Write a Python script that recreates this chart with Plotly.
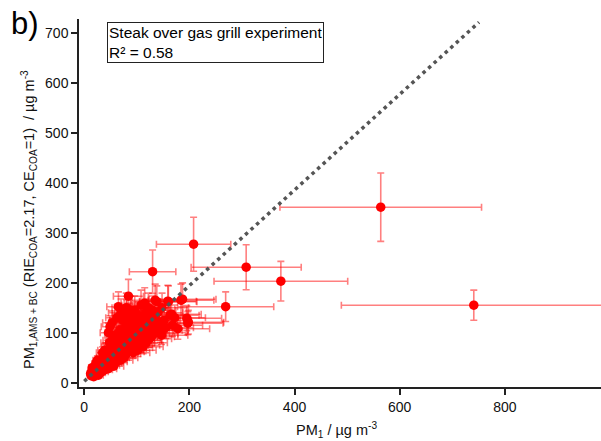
import plotly.graph_objects as go

# PM1 (x) vs PM1,AMS+BC (y), µg m-3
pm1 = [
    12, 14, 15, 16, 17, 18, 19, 20, 21, 22, 13, 15, 18, 23,
    24, 25, 26, 27, 28, 29, 30, 25, 27, 30, 22, 28,
    32, 33, 34, 35, 36, 37, 38, 40, 41, 42, 43, 44, 35, 39, 45, 31,
    46, 47, 48, 49, 50, 51, 52, 53, 54, 55, 56, 57, 58, 59, 60, 46, 48, 53,
    61, 62, 63, 64, 65, 66, 67, 68, 69, 70, 71, 72, 73, 74, 75, 62, 70,
    76, 77, 78, 79, 80, 81, 82, 83, 84, 85, 86, 87, 88, 89, 90, 80, 88,
    91, 92, 93, 94, 95, 96, 97, 98, 99, 100, 101, 102, 103, 104, 105,
    107, 108, 109, 110, 111, 112, 113, 115, 116, 117, 118, 120, 121, 122, 124,
    126, 127, 128, 130, 130, 132, 133, 135, 136, 138, 139, 140, 142, 145, 147, 148,
    152, 155, 159, 160, 163, 166, 168, 172, 178, 184, 187, 195, 198, 197,
    208, 269, 308, 374, 564, 741,
]
pm1_ams_bc = [
    18, 22, 16, 25, 20, 28, 17, 24, 31, 19, 14, 30, 12, 26,
    22, 35, 18, 28, 40, 24, 32, 45, 15, 20, 38, 30,
    27, 42, 22, 36, 50, 30, 44, 26, 55, 38, 32, 48, 60, 65, 40, 35,
    28, 58, 45, 112, 35, 70, 52, 40, 85, 62, 33, 75, 48, 95, 57, 100, 80, 120,
    42, 68, 88, 50, 152, 78, 60, 105, 45, 72, 95, 55, 125, 82, 65, 130, 140,
    50, 90, 110, 70, 58, 139, 100, 78, 173, 62, 120, 88, 68, 105, 130, 150, 145,
    75, 95, 60, 115, 85, 145, 70, 100, 125, 80, 110, 65, 135, 92, 118,
    75, 155, 100, 85, 128, 72, 110, 159, 95, 140, 80, 120, 100, 150, 88,
    130, 105, 92, 222, 145, 115, 98, 165, 125, 162, 105, 140, 118, 100, 95, 150,
    125, 110, 163, 162, 135, 137, 115, 130, 108, 165, 167, 129, 121, 119,
    277, 152, 231, 203, 351, 155,
]
# relative uncertainties (%)
x_err_pct = 34
y_err_pct = 19.5

# dotted reference line end points
line_x = [0, 751]
line_y = [3, 721]

x_ticks = [0, 200, 400, 600, 800]
y_ticks = [0, 100, 200, 300, 400, 500, 600, 700]

FONT = "Arial, Liberation Sans, sans-serif"
RED = "#ff0000"
ERR = "rgba(255,0,0,0.5)"

fig = go.Figure()
fig.add_trace(go.Scatter(
    x=pm1, y=pm1_ams_bc, mode="markers",
    marker=dict(color=RED, size=9.5, line=dict(width=0)),
    error_x=dict(type="percent", value=x_err_pct, color=ERR, thickness=1.6, width=3.5),
    error_y=dict(type="percent", value=y_err_pct, color=ERR, thickness=1.6, width=3.5),
    showlegend=False,
))
fig.add_trace(go.Scatter(
    x=line_x, y=line_y, mode="lines",
    line=dict(color="#555555", width=3.5, dash="3.5px,4px"),
    showlegend=False,
))

axis_common = dict(
    showline=True, linecolor="#222222", linewidth=1.5,
    ticks="outside", ticklen=6, tickwidth=1.5, tickcolor="#222222",
    showgrid=False, zeroline=False,
    tickfont=dict(family=FONT, size=14, color="#111111"),
)
fig.update_xaxes(range=[-10, 983], tickvals=x_ticks, **axis_common)
fig.update_yaxes(range=[-8.6, 727.4], tickvals=y_ticks, **axis_common)

fig.add_annotation(
    xref="paper", yref="paper", x=0.494, y=-0.084,
    text="PM<sub>1</sub> / µg m<sup>-3</sup>", showarrow=False,
    font=dict(family=FONT, size=14.5, color="#111111"),
    xanchor="center", yanchor="top",
)
fig.add_annotation(
    xref="paper", yref="paper", x=-0.074, y=0.455,
    text="PM<sub>1,AMS + BC</sub> (RIE<sub>COA</sub>=2.17, CE<sub>COA</sub>=1)  / µg m<sup>-3</sup>",
    showarrow=False, textangle=-90,
    font=dict(family=FONT, size=14.5, color="#111111"),
    xanchor="right", yanchor="middle",
)
fig.add_annotation(
    xref="paper", yref="paper", x=-0.103, y=0.988,
    text="b)", showarrow=False,
    font=dict(family=FONT, size=31, color="#000000"),
    xanchor="center", yanchor="middle",
)
fig.add_annotation(
    xref="paper", yref="paper", x=0.0536, y=0.992,
    text="Steak over gas grill experiment<br>R² = 0.58", showarrow=False,
    align="left", xanchor="left", yanchor="top",
    font=dict(family=FONT, size=15.5, color="#000000"),
    bordercolor="#222222", borderwidth=1, borderpad=1, bgcolor="white",
)

fig.update_layout(
    width=601, height=441,
    margin=dict(l=79, r=0, t=19, b=54),
    paper_bgcolor="white", plot_bgcolor="white",
    font=dict(family=FONT),
)

fig.write_html("out.html")
